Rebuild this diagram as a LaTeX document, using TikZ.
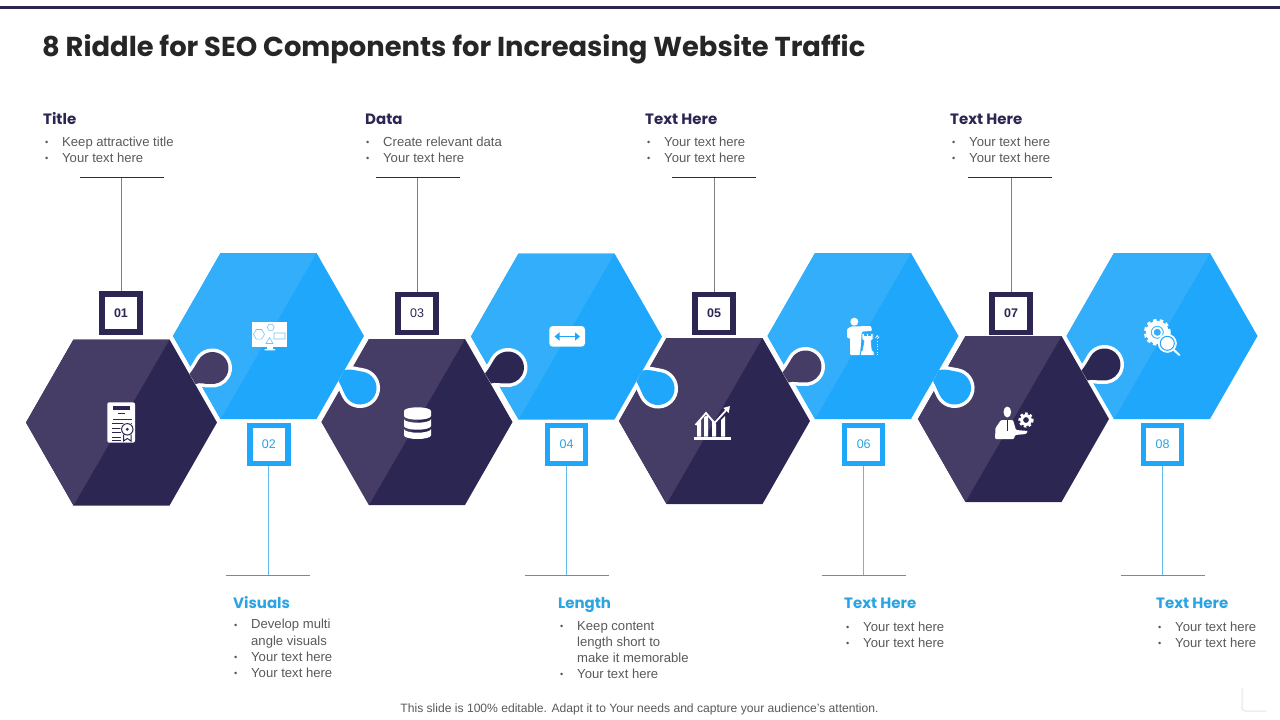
\documentclass[tikz,border=0pt]{standalone}
\usepackage{fontspec}
\setmainfont{Liberation Sans}
\newfontfamily\headfont{Poppins}
\usepackage{xcolor}
\usetikzlibrary{positioning,arrows.meta}

\definecolor{navylight}{HTML}{453D66}
\definecolor{navydark}{HTML}{2C2652}
\definecolor{skylight}{HTML}{33AEFB}
\definecolor{skydark}{HTML}{1FA7FB}
\definecolor{skyline}{HTML}{2BA4E3}
\definecolor{bodygray}{HTML}{595959}

% outlines of the puzzle tabs, relative to the hexagon centre
\newcommand{\tabup}{(68,-48.5) .. controls (71,-52) and (74.6,-58.2) .. (77.1,-62.5) arc (210:460:16) .. controls (83,-38) and (79,-40.5) .. (74,-38.5) -- cycle}
\newcommand{\tabdown}{(76,34) .. controls (82,32.5) and (88,34.8) .. (94.4,35.75) arc (280:500:16.5) .. controls (75.8,58.8) and (74,52) .. (70,45) -- cycle}
\newcommand{\hexbody}[3]{\begin{scope}[shift={(#1)}]
    \fill[#3] (-95.5,0) -- (-48,-83) -- (48,-83) -- (95.5,0) -- (48,83) -- (-48,83) -- cycle;
    \fill[#2] (-95.5,0) -- (-48,-83) -- (48,-83) -- (-48,83) -- cycle;
\end{scope}}
\newcommand{\hexpiece}[5]{\begin{scope}[shift={(#1)}]
    \draw[white, line width=7pt] #5;
\end{scope}
\hexbody{#1}{#2}{#3}
\begin{scope}[shift={(#1)}]
    \fill[#4] #5;
\end{scope}}
\newcommand{\itemline}[1]{\makebox[17pt][l]{\raisebox{1pt}{\scalebox{.7}{\textbullet}}}#1}
\newcommand{\itemmore}[1]{\hspace*{17pt}#1}

\begin{document}
\begin{tikzpicture}[
    x=1pt, y=-1pt,
    every node/.style={inner sep=0pt},
    boxdark/.style={draw=navydark, fill=white, line width=5.5pt, minimum size=38pt, text=navydark, font=\fontsize{12.5}{14}\selectfont},
    boxsky/.style={draw=skydark, fill=white, line width=5.5pt, minimum size=38pt, text=skyline, font=\fontsize{12.5}{14}\selectfont},
    stemdark/.style={draw=gray, line width=0.9pt},
    stemsky/.style={draw=skyline!75, line width=0.9pt},
    bardark/.style={draw=navydark, line width=0.9pt},
    barsky/.style={draw=skyline, line width=0.9pt},
    headdark/.style={anchor=base west, text=navydark, font=\headfont\bfseries\fontsize{15}{18}\selectfont},
    headsky/.style={anchor=base west, text=skyline, font=\headfont\bfseries\fontsize{15}{18}\selectfont},
    bodytext/.style={anchor=north west, align=left, text=bodygray, font=\fontsize{13.1}{16}\selectfont},
    iconline/.style={draw=white, line width=1pt},
]
\useasboundingbox (0,0) rectangle (1280,720);
\fill[navydark] (0,5.5) rectangle (1280,8.5);
\node[anchor=base west, text=black!85, font=\headfont\bfseries\fontsize{27.35}{32}\selectfont] (title) at (42,56) {8 Riddle for SEO Components for Increasing Website Traffic};

% hexagon centres
\coordinate (h1) at (121.5,422.5);
\coordinate (h2) at (268.5,336);
\coordinate (h3) at (417,422);
\coordinate (h4) at (566.5,336.5);
\coordinate (h5) at (714.5,421);
\coordinate (h6) at (863,336);
\coordinate (h7) at (1013.5,419);
\coordinate (h8) at (1162,336);

% last piece first, each tab lies over its right neighbour
\hexbody{h8}{skylight}{skydark}
\hexpiece{h7}{navylight}{navydark}{navydark}{\tabup}
\hexpiece{h6}{skylight}{skydark}{skydark}{\tabdown}
\hexpiece{h5}{navylight}{navydark}{navylight}{\tabup}
\hexpiece{h4}{skylight}{skydark}{skydark}{\tabdown}
\hexpiece{h3}{navylight}{navydark}{navydark}{\tabup}
\hexpiece{h2}{skylight}{skydark}{skydark}{\tabdown}
\hexpiece{h1}{navylight}{navydark}{navylight}{\tabup}

% numbered boxes
\node[boxdark, font=\bfseries\fontsize{12.5}{14}\selectfont] (n1) at (121,313) {01};
\node[boxsky] (n2) at (268.8,444.4) {02};
\node[boxdark] (n3) at (417,313.5) {03};
\node[boxsky] (n4) at (566.5,444.5) {04};
\node[boxdark, font=\bfseries\fontsize{12.5}{14}\selectfont] (n5) at (714,313.5) {05};
\node[boxsky] (n6) at (863.7,444.5) {06};
\node[boxdark, font=\bfseries\fontsize{12.5}{14}\selectfont] (n7) at (1011,313.5) {07};
\node[boxsky] (n8) at (1162.5,444.5) {08};

% stems and bars
\coordinate (c1) at (121,177);
\coordinate (c2) at (268.8,575.5);
\coordinate (c3) at (417,177);
\coordinate (c4) at (566.5,575.5);
\coordinate (c5) at (714,177);
\coordinate (c6) at (863.7,575.5);
\coordinate (c7) at (1011,177);
\coordinate (c8) at (1162.5,575.5);
\draw[stemdark] (n1) -- (c1);
\draw[stemdark] (n3) -- (c3);
\draw[stemdark] (n5) -- (c5);
\draw[stemdark] (n7) -- (c7);
\draw[stemsky] (n2) -- (c2);
\draw[stemsky] (n4) -- (c4);
\draw[stemsky] (n6) -- (c6);
\draw[stemsky] (n8) -- (c8);
\draw[bardark] ([xshift=-41pt]c1) -- ([xshift=43pt]c1);
\draw[bardark] ([xshift=-41pt]c3) -- ([xshift=43pt]c3);
\draw[bardark] ([xshift=-42pt]c5) -- ([xshift=42pt]c5);
\draw[bardark] ([xshift=-43pt]c7) -- ([xshift=41pt]c7);
\draw[barsky] ([xshift=-43pt]c2) -- ([xshift=41pt]c2);
\draw[barsky] ([xshift=-42pt]c4) -- ([xshift=42pt]c4);
\draw[barsky] ([xshift=-42pt]c6) -- ([xshift=42pt]c6);
\draw[barsky] ([xshift=-42pt]c8) -- ([xshift=42pt]c8);

% upper texts
\node[headdark] (head1) at (43,124.5) {Title};
\node[bodytext] (text1) at (45,137.3) {\itemline{Keep attractive title}\\\itemline{Your text here}};
\node[headdark] (head3) at (365,124.5) {Data};
\node[bodytext] (text3) at (366,137.3) {\itemline{Create relevant data}\\\itemline{Your text here}};
\node[headdark] (head5) at (645,124.5) {Text Here};
\node[bodytext] (text5) at (647,137.3) {\itemline{Your text here}\\\itemline{Your text here}};
\node[headdark] (head7) at (950,124.5) {Text Here};
\node[bodytext] (text7) at (952,137.3) {\itemline{Your text here}\\\itemline{Your text here}};

% lower texts
\node[headsky] (head2) at (233,608.5) {Visuals};
\node[bodytext] (text2) at (234,619.3) {\itemline{Develop multi}\\\itemmore{angle visuals}\\\itemline{Your text here}\\\itemline{Your text here}};
\node[headsky] (head4) at (558,608.5) {Length};
\node[bodytext] (text4) at (560,621.3) {\itemline{Keep content}\\\itemmore{length short to}\\\itemmore{make it memorable}\\\itemline{Your text here}};
\node[headsky] (head6) at (844,608.5) {Text Here};
\node[bodytext] (text6) at (846,621.3) {\itemline{Your text here}\\\itemline{Your text here}};
\node[headsky] (head8) at (1156,608.5) {Text Here};
\node[bodytext] (text8) at (1158,621.3) {\itemline{Your text here}\\\itemline{Your text here}};

\node[text=bodygray, font=\fontsize{12.1}{14}\selectfont] (foot) at (639.5,709) {This slide is 100\% editable. Adapt it to Your needs and capture your audience's attention.};

% certificate icon
\fill[white, rounded corners=2pt] (107.3,402.3) rectangle (135,442.7);
\fill[navydark] (112.7,405.7) rectangle (130,410);
\draw[navydark, line width=1pt] (118,413.5) -- (125,413.5) (113,419) -- (132,419) (112,423.5) -- (132,423.5)
    (112,428) -- (121,428) (112,432.5) -- (121,432.5) (112,437) -- (121,437) (112,440.5) -- (121,440.5);
\fill[white] (127.3,429.3) circle (7);
\draw[navydark, line width=1pt] (127.3,429.3) circle (5.7);
\draw[navydark, line width=1pt] (123.5,434.5) -- (123.5,441) -- (127.3,438.5) -- (131,441) -- (131,434.5);
\fill[navydark] (127.3,429.3) circle (1.6);

% monitor icon
\fill[white] (252.3,322) rectangle (287.3,344.5);
\fill[white] (252.3,345.3) rectangle (287.3,347);
\fill[white] (267,347) rectangle (273,349) (264.5,349) rectangle (275,350.3);
\draw[skylight!70, line width=0.6pt] (259,334.3) +(0:5.5) -- +(60:5.5) -- +(120:5.5) -- +(180:5.5) -- +(240:5.5) -- +(300:5.5) -- cycle
    (270.7,327.3) +(0:3.5) -- +(60:3.5) -- +(120:3.5) -- +(180:3.5) -- +(240:3.5) -- +(300:3.5) -- cycle
    (266,343.5) -- (269.5,337.5) -- (273,343.5) -- cycle
    (274,333) rectangle (285,339);

% database icon
\fill[white] (404,411) arc (180:360:13.5 and 3.7) -- (431,416) arc (0:180:13.5 and 3.7) -- cycle;
\fill[white] (404,411) arc (180:0:13.5 and 3.7) -- cycle;
\fill[white] (404,419) arc (180:0:13.5 and 3.7) -- (431,426) arc (0:180:13.5 and 3.7) -- cycle;
\fill[white] (404,429) arc (180:0:13.5 and 3.7) -- (431,435.3) arc (0:180:13.5 and 3.7) -- cycle;

% arrow icon
\fill[white, rounded corners=3.5pt] (549.3,326) rectangle (585,346.7);
\draw[skydark, line width=1.8pt, {Triangle[width=8pt,length=5pt]}-{Triangle[width=8pt,length=5pt]}] (554.5,336.5) -- (580,336.5);

% chart icon
\fill[white] (694,436.7) rectangle (730.7,440);
\fill[white] (697,424) -- (701,420) -- (701,436.7) -- (697,436.7) -- cycle;
\fill[white] (704,417) -- (708,415) -- (708,436.7) -- (704,436.7) -- cycle;
\fill[white] (712,419) -- (716,424) -- (716,436.7) -- (712,436.7) -- cycle;
\fill[white] (721,420) -- (725,416) -- (725,436.7) -- (721,436.7) -- cycle;
\draw[iconline, line width=1.8pt, -{Triangle[width=7pt,length=6pt]}] (695.5,425) -- (706,413) -- (714.5,423) -- (730,406);

% person with rook icon
\fill[white] (854.3,321.7) circle (4);
\fill[white, rounded corners=1pt] (847,338) -- (847,329) -- (851,326.5) -- (871,326) -- (872,331) -- (862,331.5) -- (860,355) -- (850,355) -- (850,338) -- cycle;
\filldraw[white, draw=skylight, line width=0.6pt] (862,333.5) -- (864.5,333.5) -- (864.5,335.5) -- (866.5,335.5) -- (866.5,333.5) -- (868.5,333.5) -- (868.5,335.5) -- (870.5,335.5) -- (870.5,333.5) -- (873,333.5) -- (873,339) -- (871,341) -- (872,350) -- (874,352) -- (874,355.5) -- (860.5,355.5) -- (860.5,352) -- (862.5,350) -- (864,341) -- (862,339) -- cycle;
\draw[white, line width=0.7pt, dotted] (877.3,355) -- (877.3,337);
\draw[white, line width=0.7pt] (875.5,338) -- (877.3,335.5) -- (879,338);

% person with gear icon
\fill[white] (1007.3,412) ellipse (3.8 and 5.5);
\fill[white, rounded corners=1pt] (995,439) -- (995.5,428) -- (1001,420) -- (1013,420) -- (1016,430) -- (1028,431) -- (1026,434) -- (1015,435) -- (1014,439) -- cycle;
\draw[navydark, line width=1.2pt] (1007.5,420) -- (1007.5,431);
\draw[white, line width=2pt, dash pattern=on 2.6pt off 2.4pt] (1026,420) circle (6.6);
\draw[white, line width=3pt] (1026,420) circle (4.6);

% gear with lens icon
\draw[white, line width=3pt, dash pattern=on 3.5pt off 3pt] (1157.3,332.3) circle (12);
\fill[white] (1157.3,332.3) circle (11.5);
\draw[skydark!80, line width=1pt] (1157.3,332.3) circle (6);
\fill[skylight] (1157.3,332.3) circle (3.5);
\fill[white] (1167.3,343.3) circle (9.5);
\draw[skydark, line width=1pt] (1167.3,343.3) circle (7);
\draw[white, line width=2pt, line cap=round] (1173.5,349.5) -- (1179.3,355);

% faint corner mark
\draw[black!10, line width=1pt, rounded corners=3pt] (1242,688) -- (1242,711) -- (1266,711);
\end{tikzpicture}
\end{document}
